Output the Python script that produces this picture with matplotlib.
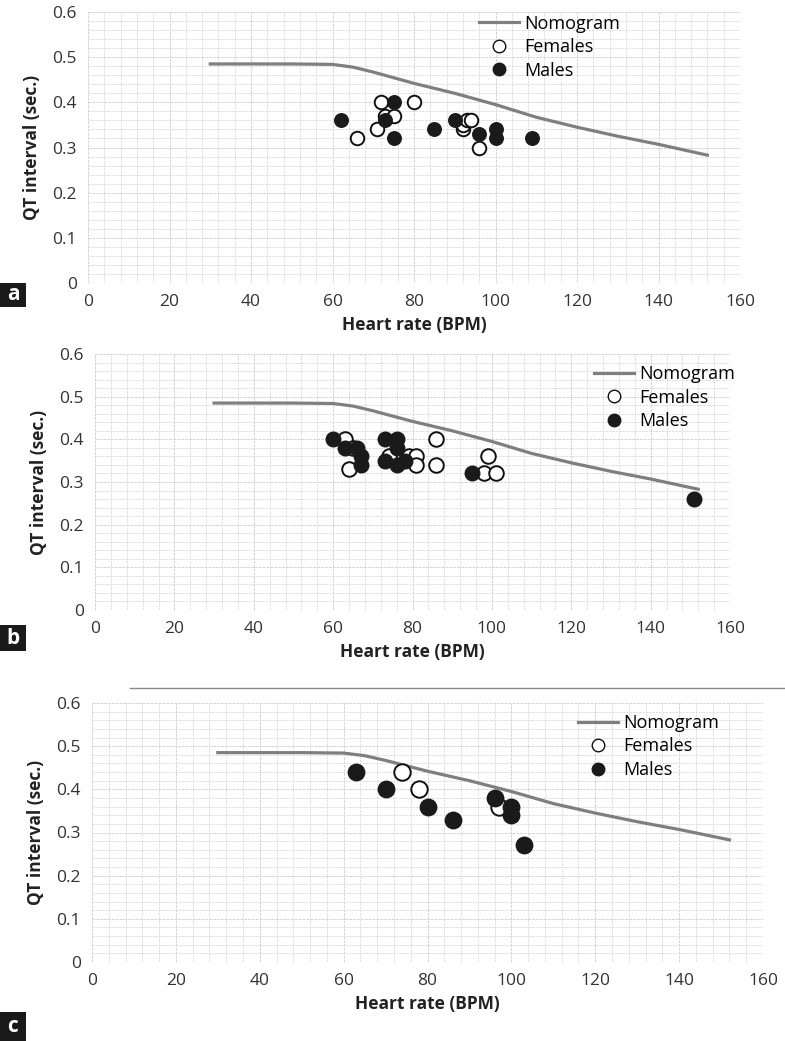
import matplotlib
matplotlib.use("Agg")
import matplotlib.pyplot as plt
from matplotlib.lines import Line2D
import numpy as np

plt.rcParams['font.family'] = ['Open Sans', 'DejaVu Sans']

# Nomogram line (shared)
nomo_hr = [30, 40, 50, 60, 65, 70, 80, 90, 100, 110, 120, 130, 140, 152]
nomo_qt = [0.485, 0.485, 0.485, 0.484, 0.478, 0.467, 0.442, 0.42, 0.395, 0.367, 0.345, 0.325, 0.307, 0.283]

# Panel a
a_f_hr = [66, 71, 72, 73, 75, 80, 92, 92, 93, 94, 96]
a_f_qt = [0.32, 0.34, 0.40, 0.37, 0.37, 0.40, 0.34, 0.35, 0.36, 0.36, 0.30]
a_m_hr = [62, 73, 75, 75, 85, 90, 96, 100, 100, 109]
a_m_qt = [0.36, 0.36, 0.40, 0.32, 0.34, 0.36, 0.33, 0.34, 0.32, 0.32]

# Panel b
b_f_hr = [63, 64, 65, 74, 79, 81, 81, 86, 86, 98, 99, 101]
b_f_qt = [0.40, 0.33, 0.38, 0.36, 0.36, 0.36, 0.34, 0.40, 0.34, 0.32, 0.36, 0.32]
b_m_hr = [60, 63, 66, 67, 67, 73, 76, 76, 73, 76, 78, 95, 151]
b_m_qt = [0.40, 0.38, 0.38, 0.36, 0.34, 0.40, 0.40, 0.38, 0.35, 0.34, 0.35, 0.32, 0.26]

# Panel c
c_f_hr = [74, 78, 97]
c_f_qt = [0.44, 0.40, 0.36]
c_m_hr = [63, 70, 80, 86, 96, 100, 100, 103]
c_m_qt = [0.44, 0.40, 0.36, 0.33, 0.38, 0.36, 0.34, 0.27]

x_ticks = [0, 20, 40, 60, 80, 100, 120, 140, 160]
y_ticks = [0, 0.1, 0.2, 0.3, 0.4, 0.5, 0.6]
y_tick_labels = ['0', '0.1', '0.2', '0.3', '0.4', '0.5', '0.6']
panel_labels = ['a', 'b', 'c']

W, H = 785, 1041
fig = plt.figure(figsize=(W / 100, H / 100), dpi=100)

# axes rectangles in pixels: (left, right, top, bottom)
rects = [(88, 740, 12, 283), (95, 730, 354, 610), (92, 763, 703, 962)]
label_boxes = [(0, 283, 26, 24), (0, 625, 26, 26), (0, 1012, 26, 29)]
msizes = [95, 110, 140]
legend_pos = [(0.575, 1.05), (0.76, 1.02), (0.70, 1.02)]

data = [
    (a_f_hr, a_f_qt, a_m_hr, a_m_qt),
    (b_f_hr, b_f_qt, b_m_hr, b_m_qt),
    (c_f_hr, c_f_qt, c_m_hr, c_m_qt),
]

for i, ((l, r, t, b), (fh, fq, mh, mq)) in enumerate(zip(rects, data)):
    ax = fig.add_axes([l / W, 1 - b / H, (r - l) / W, (b - t) / H])
    ax.set_xlim(0, 160)
    ax.set_ylim(0, 0.6)
    ax.set_xticks(x_ticks)
    ax.set_yticks(y_ticks)
    ax.set_yticklabels(y_tick_labels)
    ax.set_xticks(np.arange(0, 161, 4), minor=True)
    ax.set_yticks(np.arange(0, 0.601, 0.02), minor=True)
    ax.grid(which='major', color='#d4d4d4', linewidth=0.7, linestyle=(0, (3, 1)))
    ax.grid(which='minor', color='#dcdcdc', linewidth=0.6, linestyle=(0, (3, 1)))
    ax.set_axisbelow(True)
    for s in ax.spines.values():
        s.set_visible(False)
    ax.tick_params(which='both', length=0, labelsize=12.5, colors='#333333', pad=8)
    ax.plot(nomo_hr, nomo_qt, color='#7f7f7f', linewidth=2.3, label='Nomogram', zorder=2)
    ax.scatter(fh, fq, s=msizes[i], facecolor='white', edgecolor='#111111', linewidth=1.4,
               label='Females', zorder=3)
    ax.scatter(mh, mq, s=msizes[i], facecolor='#1a1a1a', edgecolor='#1a1a1a', linewidth=1.0,
               label='Males', zorder=4)
    ax.set_xlabel('Heart rate (BPM)', fontsize=12.5, fontweight='bold', color='#222222', labelpad=4)
    ax.set_ylabel('QT interval (sec.)', fontsize=12.5, fontweight='bold', color='#222222', labelpad=8)
    leg_handles = [
        Line2D([0], [0], color='#7f7f7f', lw=2.3),
        Line2D([0], [0], marker='o', color='none', markerfacecolor='white',
               markeredgecolor='#111111', markersize=9),
        Line2D([0], [0], marker='o', color='none', markerfacecolor='#1a1a1a',
               markeredgecolor='#1a1a1a', markersize=9),
    ]
    ax.legend(leg_handles, ['Nomogram', 'Females', 'Males'], loc='upper left',
              bbox_to_anchor=legend_pos[i], frameon=False, fontsize=13,
              handlelength=2.2, labelspacing=0.3, handletextpad=0.3)

    # panel label box
    bx, by, bw, bh = label_boxes[i]
    fig.patches.append(plt.Rectangle((bx / W, 1 - (by + bh) / H), bw / W, bh / H,
                                     transform=fig.transFigure, facecolor='#1a1a1a',
                                     edgecolor='none'))
    fig.text((bx + bw / 2) / W, 1 - (by + bh / 2) / H, panel_labels[i], color='white',
             fontsize=15, fontweight='bold', ha='center', va='center')

# separator line above panel c
fig.add_artist(Line2D([130 / W, 1.0], [1 - 688 / H, 1 - 688 / H], color='#888888', lw=1.0,
                      transform=fig.transFigure))

fig.savefig('out.png', dpi=100, facecolor='white')
